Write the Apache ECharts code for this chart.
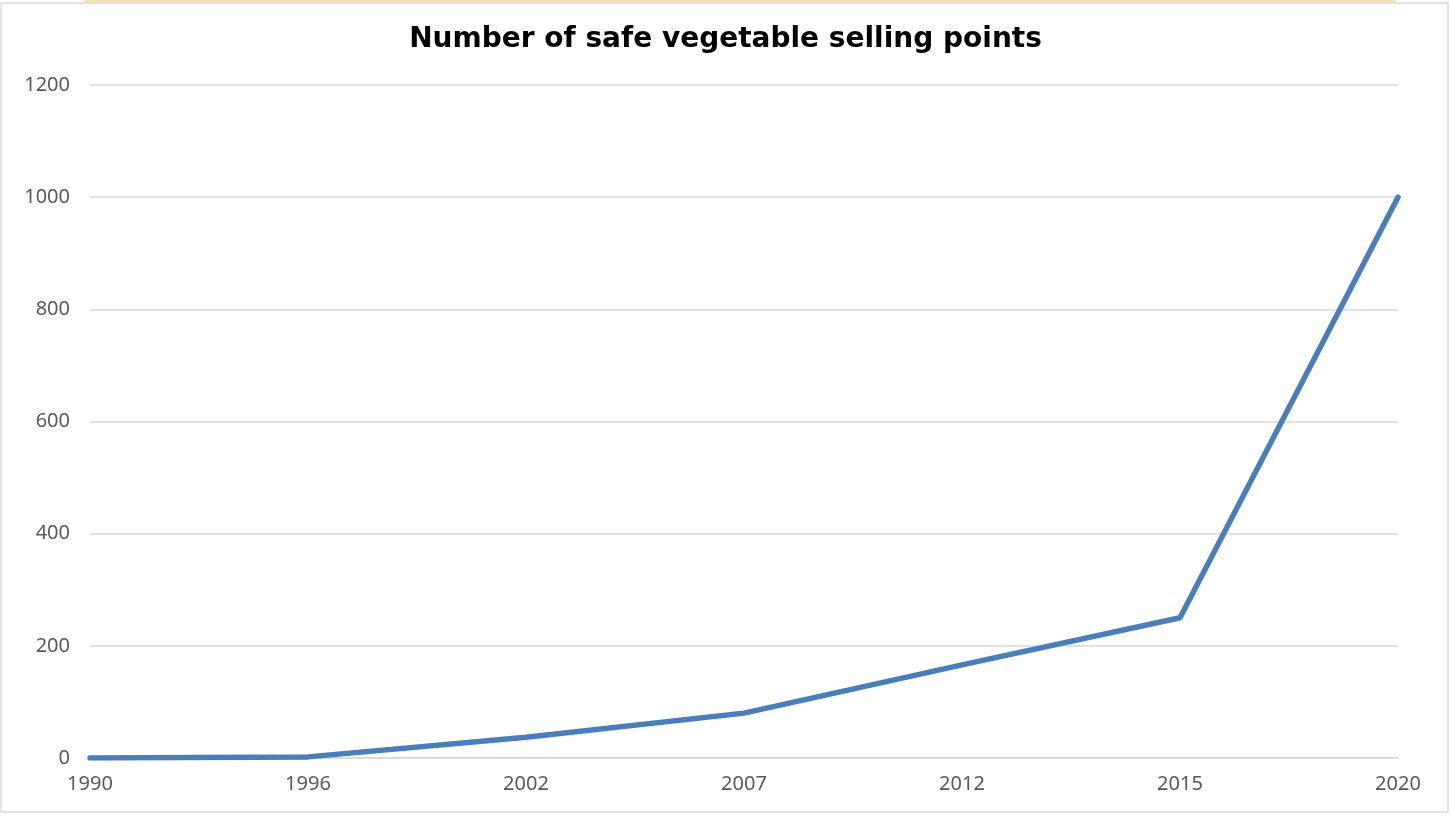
<!DOCTYPE html>
<html>
<head>
<meta charset="utf-8">
<script src="https://cdn.jsdelivr.net/npm/echarts@6/dist/echarts.min.js"></script>
<style>
html,body{margin:0;padding:0;background:#fff;}
#c{width:1451px;height:816px;}
</style>
</head>
<body>
<div id="c"></div>
<script>
const years = ['1990', '1996', '2002', '2007', '2012', '2015', '2020'];
const sellingPoints = [0, 2, 37, 80, 166, 250, 1000];
const yTicks = [0, 200, 400, 600, 800, 1000, 1200];

const chart = echarts.init(document.getElementById('c'));
chart.setOption({
  backgroundColor: '#fff',
  animation: false,
  title: {
    text: 'Number of safe vegetable selling points',
    left: 'center',
    top: 21,
    textStyle: {fontFamily: 'DejaVu Sans', fontWeight: 'bold', fontSize: 28, color: '#000'}
  },
  graphic: [
    {type: 'rect', shape: {x: 1, y: 3, width: 1447, height: 809}, style: {fill: 'none', stroke: '#d9d9d9', lineWidth: 1.5}, silent: true},
    {type: 'rect', shape: {x: 85, y: 0, width: 1310, height: 2}, style: {fill: '#f3e3a8'}, silent: true}
  ],
  grid: {left: 90, right: 53, top: 85, bottom: 58, containLabel: false},
  xAxis: {
    type: 'category',
    data: years,
    boundaryGap: false,
    axisLine: {show: true, lineStyle: {color: '#d9d9d9', width: 1.5}},
    axisTick: {show: false},
    axisLabel: {color: '#595959', fontSize: 20, fontFamily: 'Noto Sans', margin: 16}
  },
  yAxis: {
    type: 'value',
    min: yTicks[0],
    max: yTicks[yTicks.length - 1],
    interval: 200,
    axisLine: {show: false},
    axisTick: {show: false},
    splitLine: {lineStyle: {color: '#d9d9d9', width: 1.5}},
    axisLabel: {color: '#595959', fontSize: 20, fontFamily: 'Noto Sans', margin: 20, formatter: v => String(v)}
  },
  series: [{
    type: 'line',
    data: sellingPoints,
    symbol: 'none',
    lineStyle: {color: '#4a7ebb', width: 5.5, cap: 'round'},
    itemStyle: {color: '#4a7ebb'}
  }]
});
</script>
</body>
</html>
